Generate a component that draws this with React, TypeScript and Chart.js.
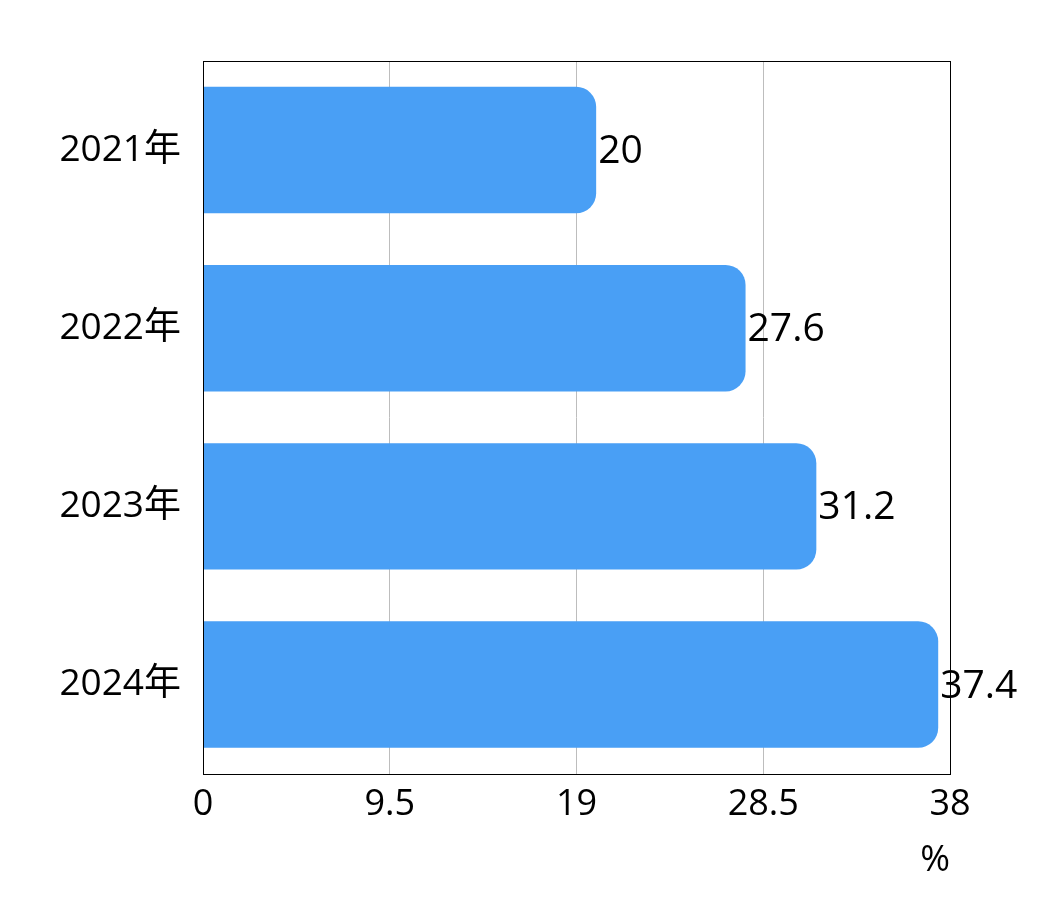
import React, { useEffect, useRef } from "react";
import { Chart, registerables } from "chart.js";

Chart.register(...registerables);

const categories = ["2021年", "2022年", "2023年", "2024年"];
const values = [20, 27.6, 31.2, 37.4];
const xTicks = [0, 9.5, 19, 28.5, 38];
const unitLabel = "%";

const FONT = "'Open Sans', 'Noto Sans CJK JP', sans-serif";

const framePlugin = {
  id: "frame",
  afterDatasetsDraw(chart: any) {
    const { ctx, chartArea } = chart;
    ctx.save();
    ctx.strokeStyle = "#000";
    ctx.lineWidth = 1;
    ctx.strokeRect(
      Math.round(chartArea.left) + 0.5,
      Math.round(chartArea.top) + 0.5,
      Math.round(chartArea.right - chartArea.left),
      Math.round(chartArea.bottom - chartArea.top)
    );
    // value labels
    const meta = chart.getDatasetMeta(0);
    ctx.fillStyle = "#000";
    ctx.font = `39px ${FONT}`;
    ctx.textAlign = "left";
    ctx.textBaseline = "middle";
    meta.data.forEach((bar: any, i: number) => {
      ctx.fillText(String(values[i]), bar.x + 2, bar.y + 2);
    });
    ctx.restore();
  },
};

export default function App() {
  const ref = useRef<HTMLCanvasElement | null>(null);
  useEffect(() => {
    if (!ref.current) return;
    const chart = new Chart(ref.current, {
      type: "bar",
      data: {
        labels: categories,
        datasets: [
          {
            data: values,
            backgroundColor: "#499FF5",
            borderRadius: 20,
            borderSkipped: "start",
            barPercentage: 1,
            categoryPercentage: 0.71,
          },
        ],
      },
      options: {
        indexAxis: "y",
        animation: false,
        responsive: false,
        devicePixelRatio: 1,
        layout: { padding: { top: 53, right: 99, bottom: 12, left: 0 } },
        plugins: { legend: { display: false }, tooltip: { enabled: false } },
        scales: {
          x: {
            min: 0,
            max: 38,
            afterBuildTicks(axis: any) {
              axis.ticks = xTicks.map((v) => ({ value: v }));
            },
            ticks: {
              color: "#000",
              font: { size: 36, family: FONT },
              padding: 10,
              maxRotation: 0,
              autoSkip: false,
            },
            grid: {
              color: "#bdbdbd",
              lineWidth: 1,
              drawTicks: false,
            },
            border: { display: false },
            title: {
              display: true,
              text: unitLabel,
              align: "end",
              color: "#000",
              font: { size: 36, family: FONT },
              padding: { top: 2, bottom: 0 },
            },
          },
          y: {
            afterFit(axis: any) {
              axis.width = 195;
            },
            ticks: {
              color: "#000",
              font: { size: 37, family: FONT },
              padding: 22,
            },
            grid: { display: false, drawTicks: false },
            border: { display: false },
          },
        },
      },
      plugins: [framePlugin],
    });
    return () => chart.destroy();
  }, []);
  return <canvas ref={ref} width={1041} height={886} style={{ display: "block" }} />;
}
